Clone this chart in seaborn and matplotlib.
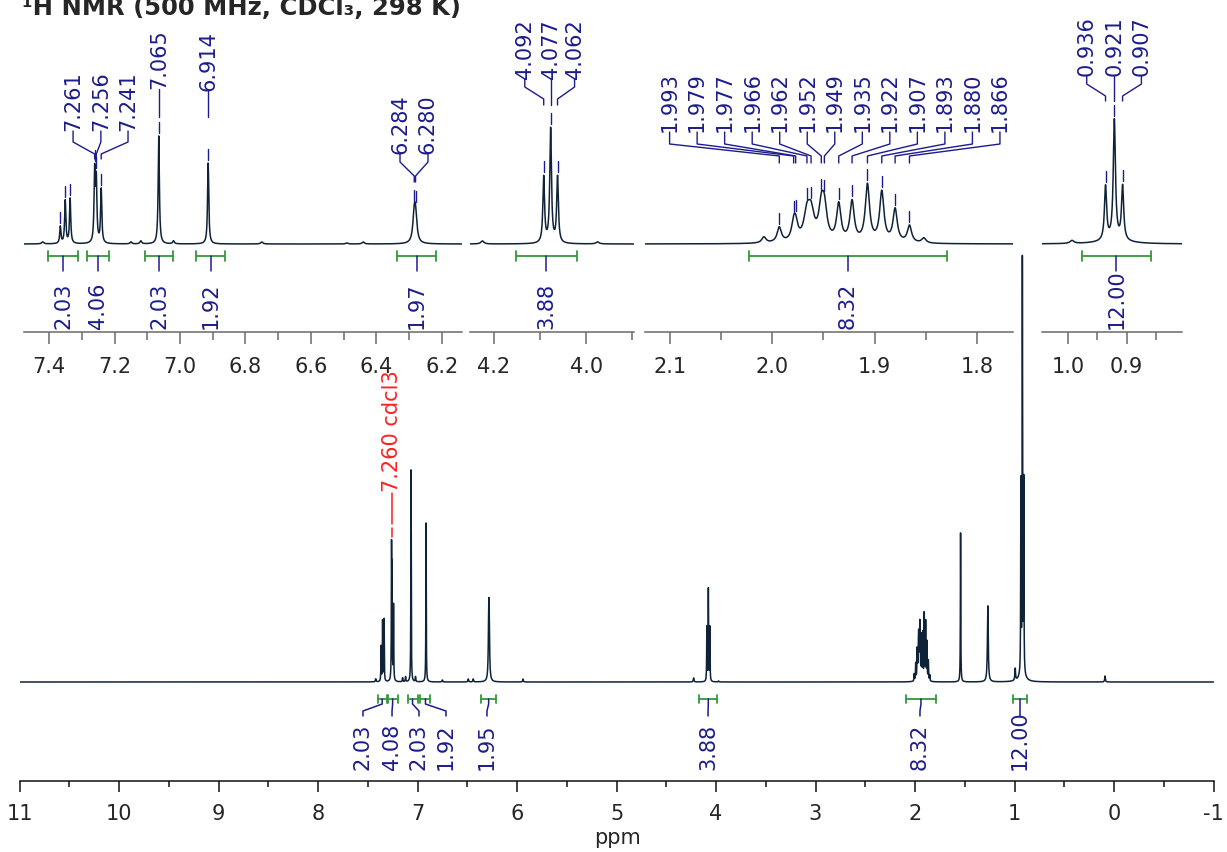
import numpy as np
import pandas as pd
import matplotlib
matplotlib.use("Agg")
import matplotlib.pyplot as plt
import seaborn as sns
from matplotlib.ticker import FixedLocator, FormatStrFormatter

sns.set_style("white")
plt.rcParams["font.family"] = ["DejaVu Sans"]
plt.rcParams["axes.unicode_minus"] = False

# -----------------------------
# peak list
# position (ppm), half width (ppm), height in the full spectrum and
# height in the zoom insets (both in px above the baseline)
# -----------------------------
peak_ppm = [7.420, 7.366, 7.351, 7.336, 7.261, 7.256, 7.241, 7.150, 7.120,
            7.065, 7.020, 6.914, 6.750, 6.490, 6.440, 6.284, 6.280, 5.940,
            4.225, 4.092, 4.077, 4.062, 3.975,
            2.008, 1.993, 1.979, 1.977, 1.966, 1.962, 1.952, 1.949, 1.935,
            1.922, 1.907, 1.893, 1.880, 1.866, 1.852,
            1.542, 1.268, 0.993, 0.936, 0.921, 0.907, 0.921, 0.090]
peak_hw = [.004, .0022, .0022, .0022, .0022, .0022, .0022, .003, .003,
           .0022, .003, .0022, .004, .004, .004, .005, .005, .004,
           .004, .0022, .0022, .0022, .004,
           .0025, .0025, .0025, .0025, .0036, .0036, .003, .003, .0025,
           .0025, .0025, .0025, .0025, .0025, .0025,
           .0022, .005, .004, .0022, .0022, .0022, .03, .004]
peak_main = [3, 35, 60, 62, 125, 100, 75, 4, 5,
             212, 5, 159, 2, 3, 3, 50, 48, 3,
             4, 54, 92, 54, 1,
             7, 17, 17, 17, 31, 31, 35, 35, 43,
             46, 66, 58, 38, 20, 6,
             149, 76, 12, 190, 410, 190, 8, 6]
peak_inset = [2, 17, 43, 45, 70, 60, 54, 2, 3,
              108, 3, 81, 2, 1, 2, 25, 24, 0,
              3, 66, 114, 66, 2,
              6, 15, 15, 15, 26, 26, 30, 30, 37,
              40, 57, 50, 33, 17, 5,
              0, 0, 3, 54, 120, 54, 3, 0]

# picked peaks (labels) per multiplet
mult_labels = [["7.261", "7.256", "7.241"], ["7.065"], ["6.914"],
               ["6.284", "6.280"], ["4.092", "4.077", "4.062"],
               ["1.993", "1.979", "1.977", "1.966", "1.962", "1.952", "1.949",
                "1.935", "1.922", "1.907", "1.893", "1.880", "1.866"],
               ["0.936", "0.921", "0.907"]]
extra_marks = [7.366, 7.351, 7.336]

# integrals: inset ranges, main ranges, values
int_lo = [7.403, 7.284, 7.106, 6.950, 6.337, 4.152, 2.023, 0.976]
int_hi = [7.311, 7.216, 7.020, 6.861, 6.216, 4.020, 1.829, 0.859]
int_inset_val = ["2.03", "4.06", "2.03", "1.92", "1.97", "3.88", "8.32", "12.00"]
main_int_lo = [7.40, 7.30, 7.10, 6.97, 6.36, 4.168, 2.09, 1.012]
main_int_hi = [7.31, 7.20, 7.00, 6.87, 6.21, 3.987, 1.79, 0.877]
int_main_val = ["2.03", "4.08", "2.03", "1.92", "1.95", "3.88", "8.32", "12.00"]

main_ticks = list(range(-1, 12))
inset_xlim = [(7.477, 6.138), (4.252, 3.896), (2.124, 1.765), (1.044, 0.806)]
inset_major = [[7.4, 7.2, 7.0, 6.8, 6.6, 6.4, 6.2], [4.2, 4.0],
               [2.1, 2.0, 1.9, 1.8], [1.0, 0.9]]
inset_minor = [[7.3, 7.1, 6.9, 6.7, 6.5, 6.3], [4.1, 3.9],
               [2.05, 1.95, 1.85], [0.95, 0.85]]

LINE = "#0f2338"
NAVY = "#1c1c8c"
GREEN = "#35993a"
RED = "#ff2020"
FS = 15

W, H = 1227, 853
fig = plt.figure(figsize=(W / 100, H / 100), dpi=100)


def px_axes(x0, x1, ytop, ybot):
    return fig.add_axes([x0 / W, 1 - ybot / H, (x1 - x0) / W, (ybot - ytop) / H])


def spectrum(x, heights):
    # sum of Lorentzian lines built from the peak list above
    y = np.zeros_like(x)
    for p, w, h in zip(peak_ppm, peak_hw, heights):
        if h:
            y += h / (1 + ((x - p) / w) ** 2)
    return y


def style_axis(ax, major, minor, fmt, col, maj_len, min_len, pad):
    for s in ["top", "left", "right"]:
        ax.spines[s].set_visible(False)
    ax.spines["bottom"].set_color(col)
    ax.spines["bottom"].set_linewidth(1.1)
    ax.set_yticks([])
    ax.set_ylabel("")
    ax.set_xlabel("")
    ax.xaxis.set_major_locator(FixedLocator(major))
    ax.xaxis.set_minor_locator(FixedLocator(minor))
    ax.xaxis.set_major_formatter(FormatStrFormatter(fmt))
    ax.tick_params(axis="x", which="major", length=maj_len, width=1.1, color=col,
                   labelsize=FS, pad=pad, direction="out", bottom=True)
    ax.tick_params(axis="x", which="minor", length=min_len, width=1.1, color=col,
                   direction="out", bottom=True)
    ax.set_facecolor("none")


# -----------------------------
# full spectrum
# -----------------------------
ax = px_axes(19.5, 1213.5, 240, 782)
grid = np.linspace(11, -1, 60001)
df_main = pd.DataFrame({"ppm": grid, "I": spectrum(grid, peak_main)})
sns.lineplot(data=df_main, x="ppm", y="I", ax=ax, color=LINE, lw=1.1,
             estimator=None, sort=False)
ax.set_xlim(11, -1)
ax.set_ylim(-99, 443)
style_axis(ax, main_ticks, [t + 0.5 for t in range(-1, 11)], "%d", "#111111", 8, 4.5, 8)

# solvent label
ax.text(7.26, 191, "7.260 cdcl3", rotation=90, ha="center", va="bottom",
        color=RED, fontsize=FS)
ax.plot([7.26, 7.26], [189, 158], color=RED, lw=1.1, clip_on=False)
ax.plot([7.26, 7.26], [154, 145], color=RED, lw=1.1, clip_on=False)

# integrals of the full spectrum
main_lab_x = [7.548, 7.256, 6.985, 6.714, 6.302, 4.080, 1.950, 0.945]
for lo, hi, lx, v in zip(main_int_lo, main_int_hi, main_lab_x, int_main_val):
    ax.plot([lo, hi], [-17, -17], color=GREEN, lw=1.3, clip_on=False)
    for e in (lo, hi):
        ax.plot([e, e], [-13, -21], color=GREEN, lw=1.3, clip_on=False)
    xc = (lo + hi) / 2
    ax.plot([xc, xc, lx, lx], [-17, -22, -29, -34], color=NAVY, lw=1.1, clip_on=False)
    ax.text(lx, -87, v, rotation=90, ha="center", va="bottom", color=NAVY, fontsize=FS)

# -----------------------------
# zoom insets
# -----------------------------
insets = [px_axes(24, 462, 0, 333), px_axes(470, 634, 0, 333),
          px_axes(645, 1013, 0, 333), px_axes(1042, 1182, 0, 333)]
for ia, (iax, xl) in enumerate(zip(insets, inset_xlim)):
    g = np.linspace(xl[0], xl[1], 6000)
    df_in = pd.DataFrame({"ppm": g, "I": spectrum(g, peak_inset)})
    sns.lineplot(data=df_in, x="ppm", y="I", ax=iax, color=LINE, lw=1.1,
                 estimator=None, sort=False)
    iax.set_xlim(*xl)
    iax.set_ylim(-88, 245)
    style_axis(iax, inset_major[ia], inset_minor[ia], "%.1f", "#6a6a6a", 8.5, 5.5, 9)


def top_of(p):
    return spectrum(np.array([p]), peak_inset)[0]


# peak labels: inset index, label x (ppm), text y, knee y, tip y, tip end y
mult_layout = [
    (0, [7.327, 7.242, 7.159], 113, 102, 90, 85),
    (0, [7.065], 155, 127, 127, 127),
    (0, [6.914], 153, 127, 127, 127),
    (0, [6.3275, 6.242], 90, 82, 68, 62),
    (1, [4.133, 4.077, 4.025], 165, 157, 145, 139),
    (2, [2.1 - 27.5 * i / 1024 for i in range(13)], 112, 100, 88, 81),
    (3, [0.968, 0.921, 0.875], 168, 160, 148, 143),
]
for labels, (ia, lxs, ty, ky, tip, tip2) in zip(mult_labels, mult_layout):
    iax = insets[ia]
    for t, lx in zip(labels, lxs):
        p = float(t)
        iax.text(lx, ty + 1, t, rotation=90, ha="center", va="bottom",
                 color=NAVY, fontsize=FS)
        iax.plot([lx, lx, p, p], [ty, ky, tip, tip2], color=NAVY, lw=1.0, clip_on=False)
        top = top_of(p)
        iax.plot([p, p], [top + 3, top + 14], color=NAVY, lw=1.0, clip_on=False)

for p in extra_marks:
    top = top_of(p)
    insets[0].plot([p, p], [top + 3, top + 14], color=NAVY, lw=1.0, clip_on=False)

# integrals of the insets
inset_of = [0, 0, 0, 0, 0, 1, 2, 3]
for lo, hi, v, ia in zip(int_lo, int_hi, int_inset_val, inset_of):
    iax = insets[ia]
    iax.plot([lo, hi], [-12, -12], color=GREEN, lw=1.3, clip_on=False)
    for e in (lo, hi):
        iax.plot([e, e], [-7, -17], color=GREEN, lw=1.3, clip_on=False)
    xc = (lo + hi) / 2
    iax.plot([xc, xc], [-12, -27], color=NAVY, lw=1.1, clip_on=False)
    iax.text(xc, -84, v, rotation=90, ha="center", va="bottom", color=NAVY, fontsize=FS)

fig.text(617 / W, 1 - 838 / H, "ppm", ha="center", va="center", fontsize=FS)
fig.text(22 / W, 1 - 15 / H, "¹H NMR (500 MHz, CDCl₃, 298 K)", ha="left",
         va="baseline", fontsize=17.5, fontweight="bold")

fig.savefig("out.png", dpi=100)
